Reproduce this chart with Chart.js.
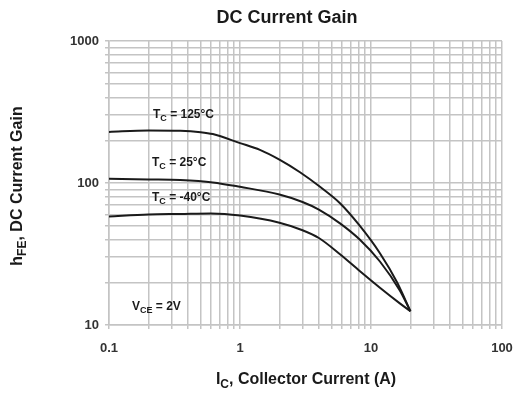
<!DOCTYPE html>
<html>
<head>
<meta charset="utf-8">
<script src="https://cdn.jsdelivr.net/npm/chart.js@4.4.0/dist/chart.umd.min.js"></script>
<style>
  body { margin: 0; background: #fff; }
  #wrap { width: 513px; height: 396px; }
</style>
</head>
<body>
<div id="wrap"><canvas id="c" width="513" height="396"></canvas></div>
<script>
// collector current (A) and hFE
const hot_x = [0.1, 0.2, 0.35, 0.5, 0.62, 1, 1.42, 2, 2.87, 4.08, 5.8, 8.2, 11.7, 15.8, 20];
const hot_y = [229, 234, 233, 228, 221, 191, 171, 146, 119, 94, 72, 50, 32, 20, 12.5];

const room_x = [0.1, 0.2, 0.35, 0.62, 1, 2, 3, 4, 5.8, 8.2, 11.7, 16.6, 20];
const room_y = [107, 106, 105, 101, 94, 83, 73.5, 65, 52, 40, 28, 17.5, 12.5];

const cold_x = [0.1, 0.2, 0.35, 0.6, 1, 2, 3, 4, 5.8, 8.2, 11.7, 16.6, 20];
const cold_y = [58, 60, 60.5, 61, 59, 52.5, 46.5, 41, 31.5, 24, 18.3, 14.2, 12.5];

const xGrid = [0.1, 0.2, 0.3, 0.4, 0.5, 0.6, 0.7, 0.8, 0.9,
               1, 2, 3, 4, 5, 6, 7, 8, 9,
               10, 20, 30, 40, 50, 60, 70, 80, 90, 100];
const xMajor = [0.1, 1, 10, 100];
const xMajorLabels = ["0.1", "1", "10", "100"];

const yGrid = [10, 20, 30, 40, 50, 60, 70, 80, 90,
               100, 200, 300, 400, 500, 600, 700, 800, 900, 1000];
const yMajor = [10, 100, 1000];
const yMajorLabels = ["10", "100", "1000"];

const GRID_COLOR = "#c4c4c4";
const INK = "#1a1a1a";
const FONT = '"Liberation Sans", Arial, sans-serif';

const toPoints = (xs, ys) => xs.map((x, i) => ({ x: x, y: ys[i] }));

const curve = (xs, ys) => ({
    data: toPoints(xs, ys),
    borderColor: INK,
    borderWidth: 2,
    pointRadius: 0,
    fill: false,
    cubicInterpolationMode: "monotone"
});

// text with a subscript, drawn left aligned from x
const drawSub = (ctx, x, y, main, sub, rest, size) => {
    ctx.font = `bold ${size}px ${FONT}`;
    ctx.fillText(main, x, y);
    x += ctx.measureText(main).width;
    ctx.font = `bold ${Math.round(size * 0.72)}px ${FONT}`;
    ctx.fillText(sub, x, y + size * 0.28);
    x += ctx.measureText(sub).width;
    ctx.font = `bold ${size}px ${FONT}`;
    ctx.fillText(rest, x, y);
};

const measureSub = (ctx, main, sub, rest, size) => {
    ctx.font = `bold ${size}px ${FONT}`;
    let w = ctx.measureText(main).width + ctx.measureText(rest).width;
    ctx.font = `bold ${Math.round(size * 0.72)}px ${FONT}`;
    return w + ctx.measureText(sub).width;
};

const labels = {
    id: "labels",
    afterDraw(chart) {
        const ctx = chart.ctx;
        ctx.save();
        ctx.fillStyle = INK;
        ctx.textBaseline = "middle";
        ctx.textAlign = "left";

        ctx.font = `bold 18px ${FONT}`;
        const t = "DC Current Gain";
        ctx.fillText(t, 287 - ctx.measureText(t).width / 2, 18);

        drawSub(ctx, 153, 115, "T", "C", " = 125°C", 12);
        drawSub(ctx, 152, 163, "T", "C", " = 25°C", 12);
        drawSub(ctx, 152, 198, "T", "C", " = -40°C", 12);
        drawSub(ctx, 132, 307, "V", "CE", " = 2V", 12);

        let w = measureSub(ctx, "I", "C", ", Collector Current (A)", 16);
        drawSub(ctx, 306 - w / 2, 380, "I", "C", ", Collector Current (A)", 16);

        ctx.translate(18, 186);
        ctx.rotate(-Math.PI / 2);
        w = measureSub(ctx, "h", "FE", ", DC Current Gain", 16);
        drawSub(ctx, -w / 2, 0, "h", "FE", ", DC Current Gain", 16);
        ctx.restore();
    }
};

new Chart(document.getElementById("c").getContext("2d"), {
    type: "line",
    data: {
        datasets: [curve(hot_x, hot_y), curve(room_x, room_y), curve(cold_x, cold_y)]
    },
    options: {
        responsive: false,
        animation: false,
        layout: { padding: { top: 41, right: 11, left: 0, bottom: 0 } },
        plugins: { legend: { display: false }, tooltip: { enabled: false } },
        scales: {
            x: {
                type: "logarithmic",
                min: 0.1,
                max: 100,
                afterBuildTicks: (scale) => { scale.ticks = xGrid.map(v => ({ value: v })); },
                afterFit: (scale) => {
                    scale.height = 71;
                    scale.paddingLeft = 0;
                    scale.paddingRight = 0;
                },
                grid: { color: GRID_COLOR, lineWidth: 1.5, tickLength: 4 },
                border: { color: GRID_COLOR, width: 1.5 },
                ticks: {
                    autoSkip: false,
                    maxRotation: 0,
                    padding: 12,
                    color: "#333",
                    font: { family: FONT, size: 13, weight: "bold" },
                    callback: (v) => {
                        const i = xMajor.indexOf(v);
                        return i >= 0 ? xMajorLabels[i] : "";
                    }
                }
            },
            y: {
                type: "logarithmic",
                min: 10,
                max: 1000,
                afterBuildTicks: (scale) => { scale.ticks = yGrid.map(v => ({ value: v })); },
                afterFit: (scale) => {
                    scale.width = 109;
                    scale.paddingTop = 0;
                    scale.paddingBottom = 0;
                },
                grid: { color: GRID_COLOR, lineWidth: 1.5, tickLength: 4 },
                border: { color: GRID_COLOR, width: 1.5 },
                ticks: {
                    autoSkip: false,
                    padding: 6,
                    color: "#333",
                    font: { family: FONT, size: 13, weight: "bold" },
                    callback: (v) => {
                        const i = yMajor.indexOf(v);
                        return i >= 0 ? yMajorLabels[i] : "";
                    }
                }
            }
        }
    },
    plugins: [labels]
});
</script>
</body>
</html>
